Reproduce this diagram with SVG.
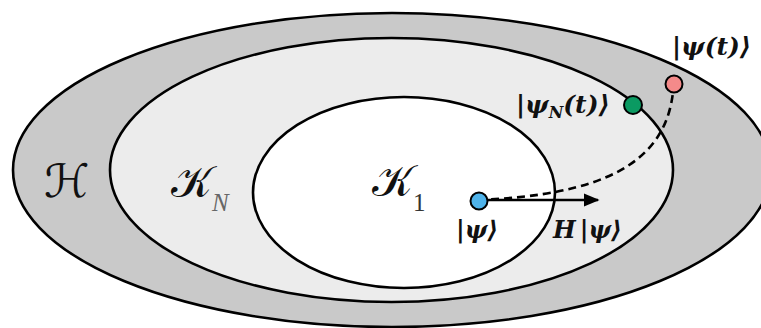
<svg xmlns="http://www.w3.org/2000/svg" width="761" height="328" viewBox="0 0 761 328">
<style>
.reg{stroke:#000;stroke-width:2.6}
.math{font-family:"DejaVu Serif","Liberation Serif",serif;font-style:italic;fill:#111}
.b{font-weight:bold}
.cal{font-family:"DejaVu Sans","Noto Sans",sans-serif;font-style:normal;font-weight:normal;fill:#111}
.dot{stroke:#000;stroke-width:2}
</style>
<defs>
<marker id="ah" viewBox="0 0 10 10" refX="9" refY="5" markerWidth="6" markerHeight="6" markerUnits="strokeWidth" orient="auto">
<path d="M0,0.8 L10,5 L0,9.2 Z" fill="#000"/>
</marker>
</defs>
<rect width="761" height="328" fill="#fff"/>
<g id="H">
<ellipse class="reg" cx="392" cy="170" rx="379" ry="157" fill="#c9c9c9"/>
<text class="cal" x="44" y="197" font-size="46" font-style="italic">ℋ</text>
</g>
<g id="KN">
<ellipse class="reg" cx="391.5" cy="170" rx="281.5" ry="132" fill="#ececec"/>
<text class="cal" x="171" y="197" font-size="44">𝒦<tspan font-family="Liberation Serif,serif" font-style="italic" font-size="25" fill="#666" dy="14">N</tspan></text>
</g>
<g id="K1">
<ellipse class="reg" cx="404" cy="192.5" rx="151" ry="95.5" fill="#fff"/>
<text class="cal" x="372" y="196" font-size="44">𝒦<tspan font-family="Liberation Serif,serif" font-size="25" fill="#333" dy="15">1</tspan></text>
</g>
<g id="connectors">
<path d="M478,200 C600,195 665,165 673,92" fill="none" stroke="#000" stroke-width="2.6" stroke-dasharray="8,5"/>
<line x1="478" y1="200" x2="598" y2="200" stroke="#000" stroke-width="2.6" marker-end="url(#ah)"/>
</g>
<g id="psi">
<circle class="dot" cx="479" cy="201" r="8.5" fill="#4fb3ea"/>
<text class="math b" x="456" y="238" font-size="24">|ψ⟩</text>
</g>
<g id="Hpsi">
<text class="math b" x="553" y="238" font-size="24">H<tspan dx="4">|ψ⟩</tspan></text>
</g>
<g id="psiN">
<circle class="dot" cx="633" cy="105" r="9" fill="#0b9a62"/>
<text class="math b" x="516" y="113" font-size="25">|ψ<tspan font-size="16" dy="5">N</tspan><tspan dy="-5">(t)⟩</tspan></text>
</g>
<g id="psit">
<circle class="dot" cx="674" cy="84" r="8.5" fill="#f48a8a"/>
<text class="math b" x="672" y="55" font-size="25">|ψ(t)⟩</text>
</g>
</svg>
